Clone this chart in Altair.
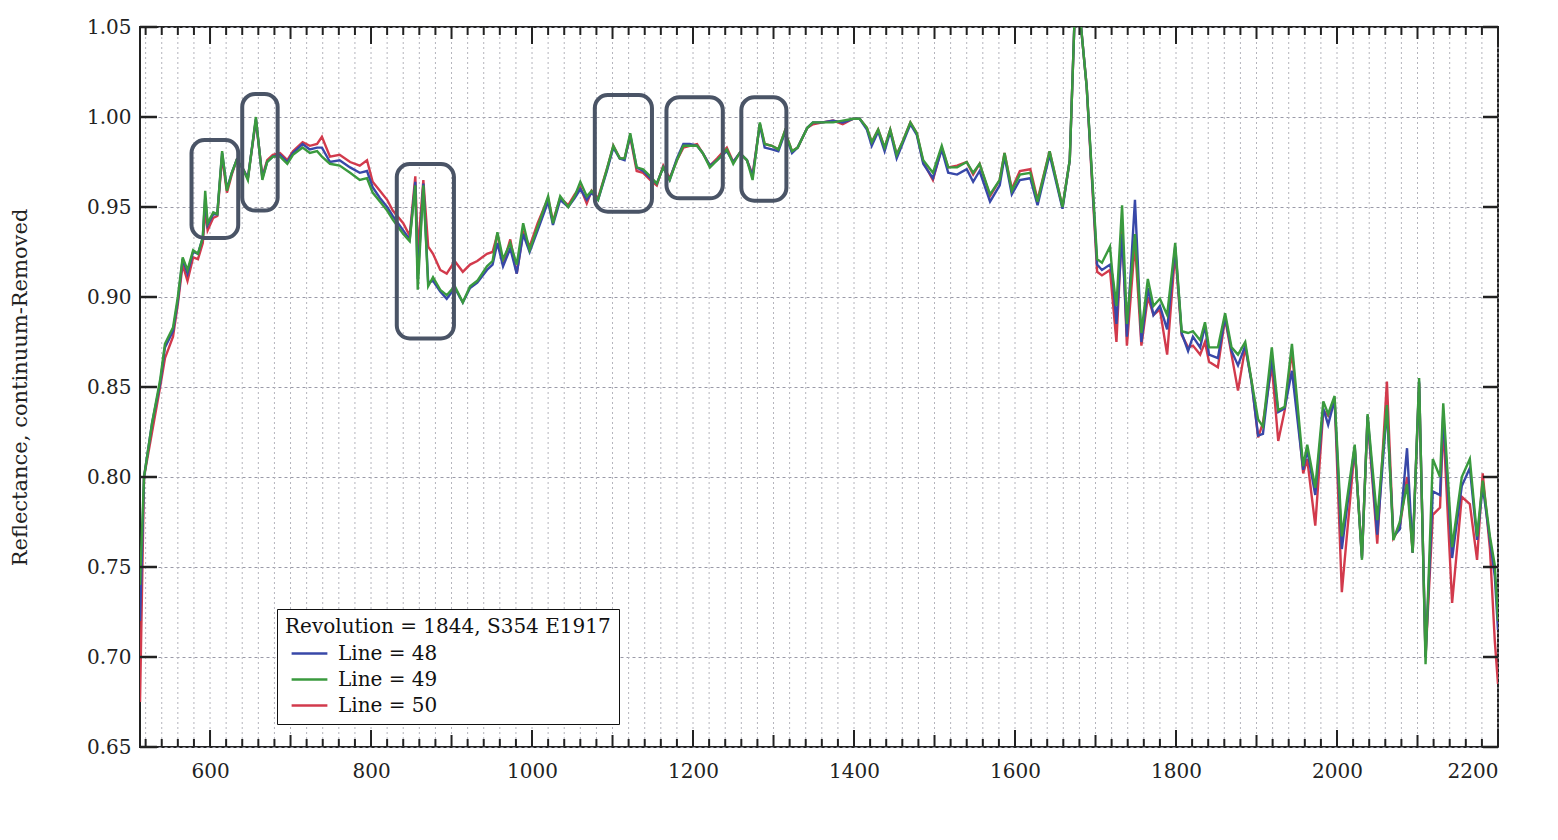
import altair as alt
import pandas as pd

# ---- data ----
wavelength = [513, 518, 528, 538, 544, 554, 560, 566, 572, 579, 585, 591, 594, 597, 604, 609, 615, 621, 627, 633,
              640, 647, 657, 665, 671, 678, 687, 696, 703, 715, 724, 733, 739, 749, 761, 774, 786, 795, 802, 811,
              820, 827, 840, 848, 855, 858, 865, 871, 877, 886, 894, 904, 914, 923, 932, 944, 951, 957, 964, 973,
              981, 989, 997, 1007, 1020, 1026, 1035, 1045, 1053, 1060, 1068, 1074, 1082, 1093, 1101, 1109, 1115, 1122, 1130, 1138,
              1147, 1155, 1163, 1171, 1180, 1188, 1196, 1205, 1212, 1221, 1230, 1242, 1250, 1258, 1267, 1274, 1283, 1289, 1298, 1306,
              1314, 1323, 1330, 1342, 1349, 1361, 1374, 1386, 1399, 1407, 1416, 1422, 1430, 1438, 1445, 1453, 1461, 1470, 1478, 1486,
              1498, 1509, 1517, 1528, 1540, 1548, 1556, 1569, 1581, 1587, 1596, 1606, 1619, 1628, 1643, 1659, 1668, 1674, 1681, 1689,
              1702, 1708, 1718, 1721, 1726, 1733, 1739, 1749, 1757, 1765, 1772, 1780, 1789, 1799, 1807, 1815, 1821, 1830, 1836, 1841,
              1852, 1861, 1869, 1877, 1886, 1894, 1902, 1908, 1919, 1927, 1935, 1944, 1958, 1963, 1973, 1983, 1989, 1997, 2006, 2022,
              2031, 2038, 2050, 2062, 2070, 2078, 2087, 2094, 2102, 2110, 2119, 2128, 2132, 2143, 2155, 2165, 2174, 2181, 2190, 2196,
              2200]

line48 = [0.720, 0.800, 0.830, 0.852, 0.872, 0.881, 0.898, 0.921, 0.913, 0.925, 0.924, 0.933, 0.955, 0.940, 0.946, 0.946, 0.980, 0.960, 0.969, 0.976,
          0.972, 0.966, 0.999, 0.966, 0.975, 0.978, 0.979, 0.975, 0.980, 0.985, 0.982, 0.983, 0.983, 0.975, 0.976, 0.972, 0.969, 0.970, 0.961, 0.955,
          0.950, 0.945, 0.937, 0.932, 0.964, 0.910, 0.963, 0.908, 0.909, 0.903, 0.899, 0.905, 0.897, 0.905, 0.908, 0.915, 0.918, 0.930, 0.917, 0.927,
          0.913, 0.935, 0.925, 0.937, 0.953, 0.940, 0.954, 0.950, 0.955, 0.960, 0.954, 0.958, 0.954, 0.970, 0.983, 0.977, 0.976, 0.990, 0.972, 0.970,
          0.966, 0.963, 0.972, 0.965, 0.977, 0.985, 0.985, 0.984, 0.980, 0.973, 0.976, 0.981, 0.975, 0.980, 0.976, 0.967, 0.996, 0.983, 0.982, 0.981,
          0.991, 0.980, 0.983, 0.994, 0.997, 0.997, 0.998, 0.997, 0.999, 0.999, 0.993, 0.984, 0.992, 0.981, 0.992, 0.977, 0.986, 0.996, 0.990, 0.974,
          0.966, 0.982, 0.969, 0.968, 0.971, 0.964, 0.970, 0.953, 0.962, 0.978, 0.957, 0.965, 0.966, 0.951, 0.979, 0.949, 0.976, 1.055, 1.055, 1.017,
          0.918, 0.915, 0.918, 0.912, 0.885, 0.935, 0.878, 0.954, 0.875, 0.905, 0.890, 0.895, 0.882, 0.928, 0.880, 0.870, 0.878, 0.872, 0.884, 0.868,
          0.866, 0.889, 0.870, 0.862, 0.873, 0.852, 0.823, 0.824, 0.866, 0.836, 0.838, 0.859, 0.804, 0.815, 0.790, 0.838, 0.829, 0.843, 0.760, 0.817,
          0.755, 0.834, 0.768, 0.838, 0.767, 0.771, 0.816, 0.758, 0.853, 0.700, 0.792, 0.790, 0.835, 0.755, 0.795, 0.805, 0.765, 0.795, 0.765, 0.745,
          0.715]

line49 = [0.740, 0.800, 0.830, 0.854, 0.874, 0.883, 0.900, 0.922, 0.915, 0.926, 0.924, 0.933, 0.959, 0.941, 0.947, 0.946, 0.981, 0.959, 0.969, 0.976,
          0.972, 0.965, 1.000, 0.965, 0.975, 0.978, 0.978, 0.974, 0.979, 0.983, 0.980, 0.981, 0.978, 0.974, 0.973, 0.969, 0.965, 0.966, 0.958, 0.953,
          0.948, 0.943, 0.935, 0.931, 0.962, 0.904, 0.962, 0.906, 0.911, 0.904, 0.901, 0.906, 0.897, 0.906, 0.909, 0.917, 0.920, 0.936, 0.921, 0.930,
          0.918, 0.941, 0.926, 0.939, 0.956, 0.941, 0.956, 0.950, 0.956, 0.964, 0.956, 0.959, 0.954, 0.971, 0.984, 0.977, 0.977, 0.991, 0.972, 0.971,
          0.967, 0.963, 0.972, 0.965, 0.976, 0.984, 0.984, 0.984, 0.980, 0.972, 0.976, 0.982, 0.974, 0.980, 0.976, 0.965, 0.997, 0.985, 0.984, 0.982,
          0.992, 0.981, 0.983, 0.994, 0.997, 0.997, 0.997, 0.998, 0.999, 0.999, 0.994, 0.986, 0.993, 0.983, 0.993, 0.979, 0.987, 0.997, 0.991, 0.976,
          0.969, 0.984, 0.972, 0.972, 0.975, 0.969, 0.974, 0.957, 0.965, 0.980, 0.959, 0.968, 0.969, 0.953, 0.981, 0.950, 0.976, 1.055, 1.055, 1.017,
          0.921, 0.919, 0.928, 0.913, 0.895, 0.951, 0.885, 0.935, 0.880, 0.910, 0.895, 0.899, 0.890, 0.930, 0.881, 0.880, 0.881, 0.876, 0.886, 0.872,
          0.872, 0.891, 0.872, 0.868, 0.875, 0.853, 0.832, 0.828, 0.872, 0.837, 0.839, 0.874, 0.806, 0.818, 0.794, 0.842, 0.835, 0.845, 0.767, 0.818,
          0.754, 0.835, 0.776, 0.840, 0.765, 0.775, 0.796, 0.758, 0.855, 0.696, 0.810, 0.800, 0.841, 0.761, 0.800, 0.810, 0.767, 0.798, 0.767, 0.751,
          0.720]

line50 = [0.675, 0.800, 0.825, 0.850, 0.866, 0.878, 0.896, 0.918, 0.909, 0.922, 0.921, 0.930, 0.948, 0.937, 0.944, 0.945, 0.978, 0.958, 0.968, 0.976,
          0.972, 0.966, 0.998, 0.967, 0.976, 0.979, 0.980, 0.976, 0.981, 0.986, 0.984, 0.985, 0.989, 0.978, 0.979, 0.975, 0.973, 0.976, 0.964, 0.959,
          0.954, 0.948, 0.941, 0.934, 0.967, 0.925, 0.965, 0.928, 0.924, 0.915, 0.913, 0.920, 0.914, 0.918, 0.920, 0.924, 0.925, 0.935, 0.918, 0.932,
          0.913, 0.936, 0.928, 0.941, 0.955, 0.942, 0.955, 0.951, 0.957, 0.961, 0.952, 0.959, 0.955, 0.971, 0.984, 0.977, 0.977, 0.989, 0.970, 0.969,
          0.965, 0.962, 0.973, 0.966, 0.976, 0.983, 0.984, 0.985, 0.980, 0.973, 0.977, 0.983, 0.975, 0.980, 0.976, 0.968, 0.996, 0.985, 0.984, 0.982,
          0.992, 0.981, 0.983, 0.994, 0.996, 0.997, 0.998, 0.996, 0.999, 0.999, 0.994, 0.986, 0.993, 0.983, 0.993, 0.979, 0.987, 0.997, 0.991, 0.975,
          0.965, 0.983, 0.972, 0.973, 0.975, 0.968, 0.974, 0.956, 0.965, 0.980, 0.960, 0.970, 0.971, 0.954, 0.981, 0.950, 0.976, 1.055, 1.055, 1.017,
          0.914, 0.912, 0.915, 0.900, 0.875, 0.940, 0.873, 0.930, 0.873, 0.900, 0.890, 0.893, 0.868, 0.925, 0.879, 0.872, 0.873, 0.868, 0.875, 0.864,
          0.861, 0.888, 0.868, 0.848, 0.872, 0.853, 0.822, 0.830, 0.862, 0.820, 0.837, 0.870, 0.802, 0.810, 0.773, 0.837, 0.834, 0.844, 0.736, 0.816,
          0.756, 0.833, 0.763, 0.853, 0.766, 0.772, 0.800, 0.758, 0.852, 0.700, 0.779, 0.783, 0.830, 0.730, 0.789, 0.785, 0.754, 0.802, 0.760, 0.709,
          0.685]

series_names = ["Line = 48", "Line = 49", "Line = 50"]
series_colors = ["#3848a8", "#3a9a3e", "#d23a4c"]
legend_title = "Revolution = 1844, S354 E1917"

# highlighted regions (wavelength range, reflectance range)
box_w0 = [577, 640, 832, 1078, 1167, 1260]
box_w1 = [635, 684, 903, 1149, 1237, 1316]
box_v0 = [0.9328, 0.9480, 0.8770, 0.9474, 0.9548, 0.9535]
box_v1 = [0.9872, 1.0128, 0.9739, 1.0122, 1.0110, 1.0110]

x_labels = list(range(600, 2201, 200))
x_mid = list(range(700, 2101, 200))
x_minor = [v for v in range(520, 2201, 20) if v % 100 != 0]
x_grid = list(range(520, 2201, 20))
y_ticks = [0.65, 0.70, 0.75, 0.80, 0.85, 0.90, 0.95, 1.00, 1.05]

W, H = 1358, 720
FONT = "DejaVu Serif"

rows = []
for name, vals in zip(series_names, [line48, line49, line50]):
    for w, v in zip(wavelength, vals):
        rows.append({"wavelength": w, "value": v, "series": name})
df = pd.DataFrame(rows)

boxes = pd.DataFrame({"w0": box_w0, "w1": box_w1, "v0": box_v0, "v1": box_v1})

xscale = alt.Scale(domain=[513, 2200], nice=False, zero=False)
yscale = alt.Scale(domain=[0.65, 1.05], nice=False, zero=False)

xaxis = alt.Axis(values=x_labels, format="d", grid=False, ticks=False, domain=False,
                 labelFont=FONT, labelFontSize=20, labelColor="#222", labelPadding=14, title=None)
yaxis = alt.Axis(values=y_ticks, format=".2f", grid=True, gridDash=[3, 3], gridColor="#9a9aa8",
                 gridWidth=1, ticks=False, domain=False,
                 labelFont=FONT, labelFontSize=20, labelColor="#222", labelPadding=9,
                 title="Reflectance, continuum-Removed", titleFont=FONT, titleFontSize=21,
                 titleFontWeight="normal", titleColor="#222", titlePadding=56)

# vertical dashed grid
grid = alt.Chart(pd.DataFrame({"g": x_grid})).mark_rule(
    strokeDash=[2, 3], color="#b4b4bc", strokeWidth=1
).encode(x=alt.X("g:Q", scale=xscale, axis=xaxis))

color_scale = alt.Scale(domain=series_names, range=series_colors)

legend = alt.Legend(title=legend_title, orient="none", legendX=137, legendY=582,
                    titleFont=FONT, titleFontSize=20, titleFontWeight="normal", titleLimit=600,
                    titleColor="#111", labelFont=FONT, labelFontSize=20,
                    labelColor="#111", symbolType="M-1.6,0H1.6", symbolSize=500,
                    symbolStrokeWidth=2.5, symbolOffset=12, strokeColor="#111", fillColor="white",
                    padding=8, rowPadding=3, titlePadding=4, labelOffset=16,
                    values=series_names)


def series_layer(name):
    return alt.Chart(df).transform_filter(alt.datum.series == name).mark_line(
        strokeWidth=2.4, clip=True
    ).encode(
        x=alt.X("wavelength:Q", scale=xscale, axis=xaxis),
        y=alt.Y("value:Q", scale=yscale, axis=yaxis),
        color=alt.Color("series:N", scale=color_scale, legend=legend),
    )


red = series_layer("Line = 50")
blue = series_layer("Line = 48")
green = series_layer("Line = 49")

rects = alt.Chart(boxes).mark_rect(
    fillOpacity=0, stroke="#4a5466", strokeWidth=4, cornerRadius=13
).encode(
    x=alt.X("w0:Q", scale=xscale), x2="w1:Q",
    y=alt.Y("v0:Q", scale=yscale), y2="v1:Q",
)


def xticks(vals, length):
    d = pd.DataFrame({"t": vals})
    b = alt.Chart(d).mark_rule(color="#222", strokeWidth=2).encode(
        x=alt.X("t:Q", scale=xscale), y=alt.value(H), y2=alt.value(H - length))
    t = alt.Chart(d).mark_rule(color="#222", strokeWidth=2).encode(
        x=alt.X("t:Q", scale=xscale), y=alt.value(0), y2=alt.value(length))
    return [b, t]


yd = pd.DataFrame({"t": y_ticks})
ytick_l = alt.Chart(yd).mark_rule(color="#222", strokeWidth=2.5).encode(
    y=alt.Y("t:Q", scale=yscale), x=alt.value(0), x2=alt.value(17))
ytick_r = alt.Chart(yd).mark_rule(color="#222", strokeWidth=2.5).encode(
    y=alt.Y("t:Q", scale=yscale), x=alt.value(W), x2=alt.value(W - 15))

layers = [grid, red, blue, green, rects] + xticks(x_labels, 17) + xticks(x_mid, 12) + xticks(x_minor, 8) + [ytick_l, ytick_r]

chart = alt.layer(*layers).properties(
    width=W, height=H,
    autosize=alt.AutoSizeParams(type="none"),
    padding={"left": 132, "top": 19, "right": 52, "bottom": 70},
    background="white",
).configure_view(
    stroke="#222", strokeWidth=2
)

chart.save("out.html", embed_options={"renderer": "svg", "actions": False})
